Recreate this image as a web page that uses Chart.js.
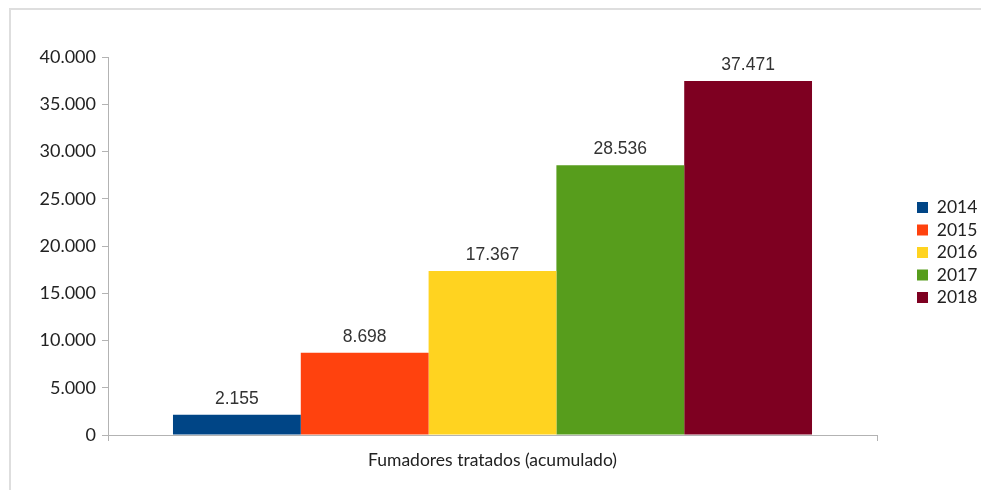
<!DOCTYPE html>
<html>
<head>
<meta charset="utf-8">
<script src="https://cdn.jsdelivr.net/npm/chart.js@4"></script>
<style>
  html, body { margin: 0; background: #fff; overflow: hidden; }
  canvas { display: block; }
</style>
</head>
<body>
<canvas id="chart" width="981" height="490"></canvas>
<script>
const categories = ["Fumadores tratados (acumulado)"];
const years = ["2014", "2015", "2016", "2017", "2018"];
const values = [2155, 8698, 17367, 28536, 37471];
const colors = ["#004586", "#ff420e", "#ffd320", "#579d1c", "#7e0021"];

// puntos como separador de miles
function fmt(n) {
  return String(n).replace(/\B(?=(\d{3})+(?!\d))/g, ".");
}

// marco gris (arriba e izquierda) y etiquetas de valor
const extras = {
  id: "extras",
  afterInit(chart) {
    const lg = chart.legend;
    const fit = lg.fit;
    lg.fit = function () { fit.call(this); this.width = 104; };
  },
  afterLayout(chart) {
    const lg = chart.legend;
    lg.left = 912; lg.right = 981;
    lg.top -= 21; lg.bottom -= 21;
  },
  beforeDraw(chart) {
    const ctx = chart.ctx;
    ctx.save();
    ctx.fillStyle = "#dedede";
    ctx.fillRect(9, 8, 972, 2);
    ctx.fillRect(9, 8, 2, 482);
    ctx.restore();
  },
  afterDatasetsDraw(chart) {
    const ctx = chart.ctx;
    ctx.save();
    ctx.font = "17.5px 'Liberation Sans', Arial, sans-serif";
    ctx.fillStyle = "#333";
    ctx.textAlign = "center";
    ctx.textBaseline = "bottom";
    chart.data.datasets.forEach((ds, i) => {
      const bar = chart.getDatasetMeta(i).data[0];
      ctx.fillText(fmt(ds.data[0]), bar.x, bar.y - 7);
    });
    ctx.restore();
  }
};

new Chart(document.getElementById("chart"), {
  type: "bar",
  data: {
    labels: categories,
    datasets: years.map((y, i) => ({
      label: y,
      data: [values[i]],
      backgroundColor: colors[i],
      borderWidth: 0
    }))
  },
  options: {
    responsive: false,
    animation: false,
    categoryPercentage: 0.831,
    barPercentage: 1,
    layout: { padding: { top: 57, left: 0, right: 0, bottom: 0 } },
    plugins: {
      legend: {
        position: "right",
        labels: {
          boxWidth: 11,
          boxHeight: 11,
          padding: 5,
          color: "#222",
          font: { family: "Lato", size: 17.5 }
        }
      },
      tooltip: { enabled: false }
    },
    scales: {
      x: {
        grid: { drawOnChartArea: false, tickLength: 6, color: "#b3b3b3" },
        border: { color: "#b3b3b3" },
        ticks: { color: "#222", padding: 9, font: { family: "Lato", size: 17.5 } },
        afterFit(s) { s.height = 55; }
      },
      y: {
        min: 0,
        max: 40000,
        ticks: {
          stepSize: 5000,
          color: "#222",
          padding: 6,
          font: { family: "Lato", size: 18 },
          callback: v => fmt(v)
        },
        grid: { drawOnChartArea: false, tickLength: 6, color: "#b3b3b3" },
        border: { color: "#b3b3b3" },
        afterFit(s) { s.width = 108; }
      }
    }
  },
  plugins: [extras]
});
</script>
</body>
</html>
